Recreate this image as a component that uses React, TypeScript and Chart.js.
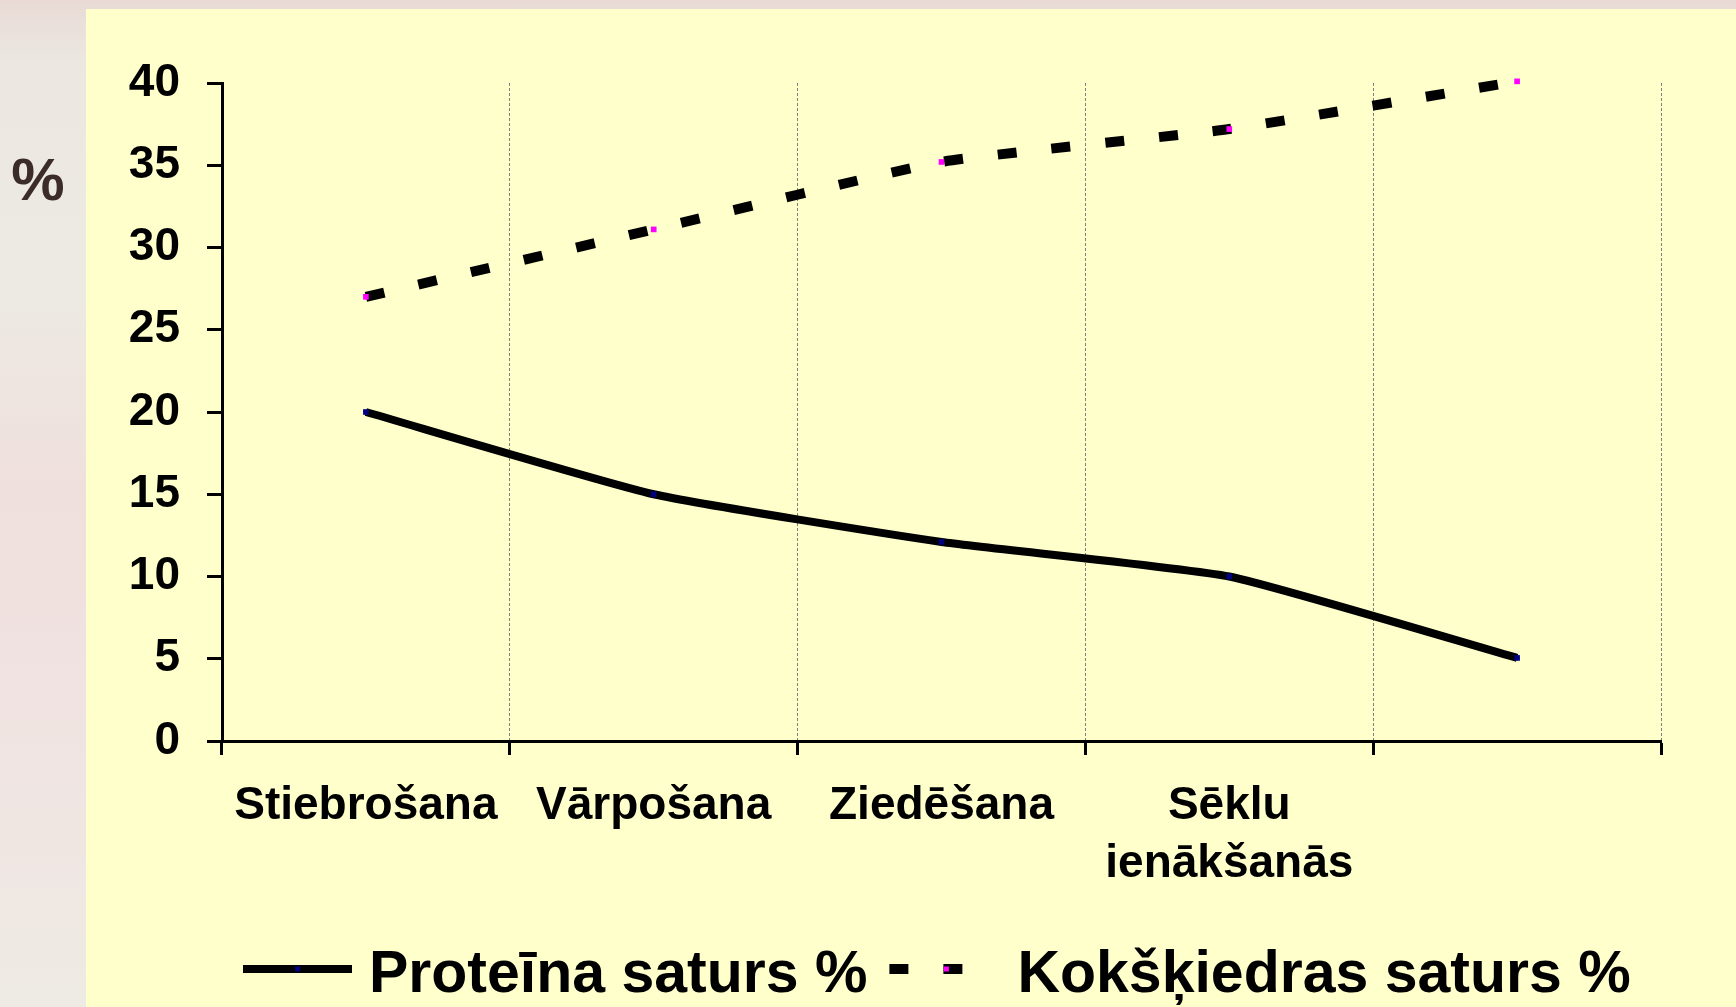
import React, { useEffect, useRef } from 'react';
import { Chart, registerables } from 'chart.js';

Chart.register(...registerables);

// ---- data ----
const categories: (string | string[])[] = ['Stiebrošana', 'Vārpošana', 'Ziedēšana', ['Sēklu', 'ienākšanās'], ''];
const proteinValues = [20, 15, 12.1, 10, 5.05];
const fiberValues = [27, 31.1, 35.2, 37.2, 40.1];
const seriesLabels = ['Proteīna saturs %', 'Kokšķiedras saturs %'];
const yMin = 0;
const yMax = 40;
const yStep = 5;
const unitLabel = '%';

const FONT = '"Liberation Sans", Arial, Helvetica, sans-serif';

const legendPlugin = {
  id: 'customLegend',
  afterDraw(chart: any, _args: any, opts: any) {
    const ctx = chart.ctx as CanvasRenderingContext2D;
    const area = chart.chartArea;
    const y = area.bottom + opts.offsetY;
    ctx.save();
    ctx.font = `bold ${opts.fontSize}px ${FONT}`;
    let x = area.left + opts.offsetX;
    chart.data.datasets.forEach((ds: any, i: number) => {
      const sampleW = opts.sampleWidths[i];
      const gap = opts.textGaps[i];
      ctx.save();
      ctx.strokeStyle = ds.borderColor;
      ctx.lineWidth = ds.borderWidth;
      ctx.lineCap = 'butt';
      ctx.setLineDash(ds.borderDash || []);
      ctx.beginPath();
      ctx.moveTo(x, y);
      ctx.lineTo(x + sampleW, y);
      ctx.stroke();
      ctx.restore();
      const mx = ds.borderDash ? x + ds.borderDash[0] + ds.borderDash[1] + 3 : x + sampleW / 2;
      ctx.fillStyle = ds.pointBackgroundColor;
      ctx.fillRect(mx - 2.5, y - 2.5, 5, 5);
      ctx.fillStyle = '#000000';
      ctx.textAlign = 'left';
      ctx.textBaseline = 'alphabetic';
      const tx = x + sampleW + gap;
      ctx.fillText(ds.label, tx, y + opts.baselineOffset);
      const tw = ctx.measureText(ds.label).width;
      x = tx + tw + opts.itemGap;
    });
    ctx.restore();
  },
};

const unitPlugin = {
  id: 'unitLabel',
  afterDraw(chart: any, _args: any, opts: any) {
    const ctx = chart.ctx as CanvasRenderingContext2D;
    ctx.save();
    ctx.font = `bold ${opts.fontSize}px ${FONT}`;
    ctx.fillStyle = opts.color;
    ctx.textAlign = 'center';
    ctx.textBaseline = 'alphabetic';
    ctx.fillText(opts.text, opts.x, chart.chartArea.top + opts.dy);
    ctx.restore();
  },
};

export default function App() {
  const canvasRef = useRef<HTMLCanvasElement | null>(null);

  useEffect(() => {
    if (!canvasRef.current) return;
    const chart = new Chart(canvasRef.current, {
      type: 'line',
      data: {
        labels: categories as any,
        datasets: [
          {
            label: seriesLabels[0],
            data: proteinValues,
            borderColor: '#000000',
            borderWidth: 8,
            tension: 0.15,
            pointStyle: 'rect',
            pointRadius: 4,
            pointBorderWidth: 0,
            pointBackgroundColor: '#000080',
            pointBorderColor: '#000080',
            clip: false as any,
          },
          {
            label: seriesLabels[1],
            data: fiberValues,
            borderColor: '#000000',
            borderWidth: 10,
            borderDash: [19, 35],
            borderCapStyle: 'butt',
            tension: 0.15,
            pointStyle: 'rect',
            pointRadius: 4,
            pointBorderWidth: 0,
            pointBackgroundColor: '#FF00FF',
            pointBorderColor: '#FF00FF',
            clip: false as any,
          },
        ],
      },
      options: {
        animation: false,
        responsive: false,
        maintainAspectRatio: false,
        layout: { padding: { left: 0, right: 75, top: 83, bottom: 0 } },
        plugins: {
          legend: { display: false },
          tooltip: { enabled: false },
          customLegend: {
            offsetX: 21,
            offsetY: 228,
            fontSize: 59,
            baselineOffset: 23,
            sampleWidths: [109, 74],
            textGaps: [17, 54],
            itemGap: 22,
          },
          unitLabel: { text: unitLabel, x: 38, dy: 117, fontSize: 60, color: '#3B2C28' },
        } as any,
        scales: {
          x: {
            offset: true,
            grid: {
              offset: true,
              display: true,
              drawOnChartArea: true,
              color: '#7F7F7F',
              lineWidth: 1,
              tickColor: '#000000',
              tickWidth: 3,
              tickLength: 14,
            },
            border: { display: true, color: '#000000', width: 3, dash: [3, 2] },
            ticks: {
              color: '#000000',
              font: { family: FONT, size: 46, weight: 'bold', lineHeight: 1.25 },
              padding: 23,
              maxRotation: 0,
              minRotation: 0,
              autoSkip: false,
            },
            afterFit: (scale: any) => {
              scale.height = 266;
            },
          },
          y: {
            min: yMin,
            max: yMax,
            grid: {
              display: true,
              drawOnChartArea: false,
              tickColor: '#000000',
              tickWidth: 3,
              tickLength: 15,
            },
            border: { display: true, color: '#000000', width: 3 },
            ticks: {
              stepSize: yStep,
              color: '#000000',
              font: { family: FONT, size: 46, weight: 'bold' },
              padding: 27,
            },
            afterFit: (scale: any) => {
              scale.width = 222;
            },
          },
        },
      },
      plugins: [legendPlugin, unitPlugin],
    });
    return () => chart.destroy();
  }, []);

  return (
    <div
      style={{
        position: 'fixed',
        left: 0,
        top: 0,
        width: 1736,
        height: 1007,
        overflow: 'hidden',
        background:
          'linear-gradient(180deg, #E9DAD5 0px, #ECE7E1 60px, #EDE9E3 300px, #EFDFDD 500px, #F0E3E1 700px, #EEEAE4 1007px)',
      }}
    >
      <div
        style={{
          position: 'absolute',
          left: 86,
          top: 9,
          right: 0,
          bottom: 0,
          background: '#FFFFCC',
        }}
      />
      <canvas
        ref={canvasRef}
        width={1736}
        height={1007}
        style={{ position: 'absolute', left: 0, top: 0, width: 1736, height: 1007 }}
      />
    </div>
  );
}
